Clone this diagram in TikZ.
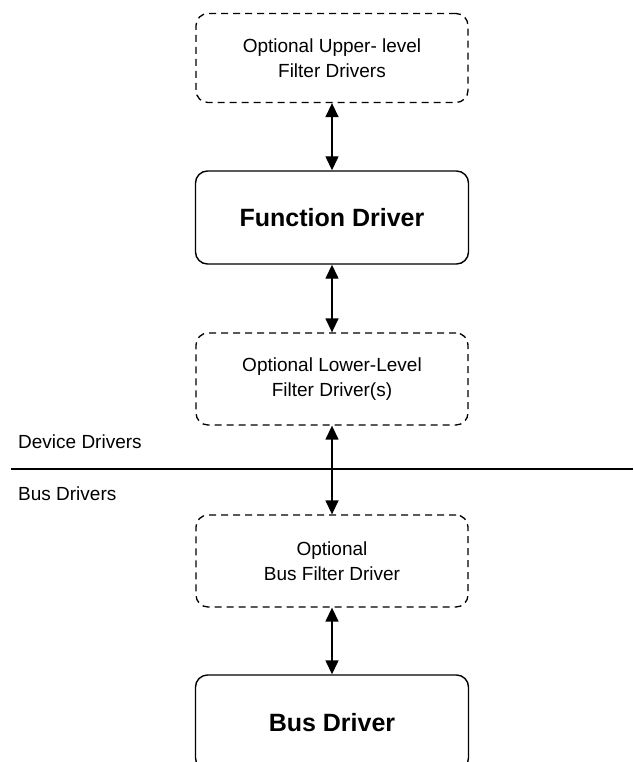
\documentclass[tikz,border=0pt]{standalone}
\usepackage{fontspec}
\setmainfont{Liberation Sans}
\usetikzlibrary{arrows.meta}
\begin{document}
\begin{tikzpicture}[x=1pt,y=-1pt,
  optbox/.style={draw, dash pattern=on 7pt off 5pt, rounded corners=12pt,
    minimum width=272pt, line width=1.3pt, align=center, inner sep=0pt,
    font=\fontsize{19}{25}\selectfont},
  mainbox/.style={draw, rounded corners=12pt, minimum width=273pt,
    line width=1.4pt, inner sep=0pt, font=\fontsize{25}{30}\selectfont\bfseries},
  link/.style={{Triangle[width=13pt,length=14pt]}-{Triangle[width=13pt,length=14pt]}, line width=1.4pt},
  sidelabel/.style={anchor=base west, inner sep=0pt, font=\fontsize{19}{25}\selectfont}
]
\useasboundingbox (0,0) rectangle (633,762);
\clip (0,0) rectangle (633,762);
\node[optbox, minimum height=89pt] (b1) at (332,58) {Optional Upper- level\\Filter Drivers};
\node[mainbox, minimum height=93pt] (b2) at (332,217.5) {Function Driver};
\node[optbox, minimum height=92pt] (b3) at (332,379) {Optional Lower-Level\\Filter Driver(s)};
\node[optbox, minimum height=92pt] (b4) at (332,561) {Optional\\Bus Filter Driver};
\node[mainbox, minimum height=95pt] (b5) at (332,722.5) {Bus Driver};
\draw[link] (b1.south) -- (b2.north);
\draw[link] (b2.south) -- (b3.north);
\draw[link] (b3.south) -- (b4.north);
\draw[link] (b4.south) -- (b5.north);
\coordinate (l1) at (11,469);
\coordinate (l2) at (633,469);
\draw[line width=1.4pt] (l1) -- (l2);
\node[sidelabel] (dd) at (18,448) {Device Drivers};
\node[sidelabel] (bd) at (18,500) {Bus Drivers};
\end{tikzpicture}
\end{document}
